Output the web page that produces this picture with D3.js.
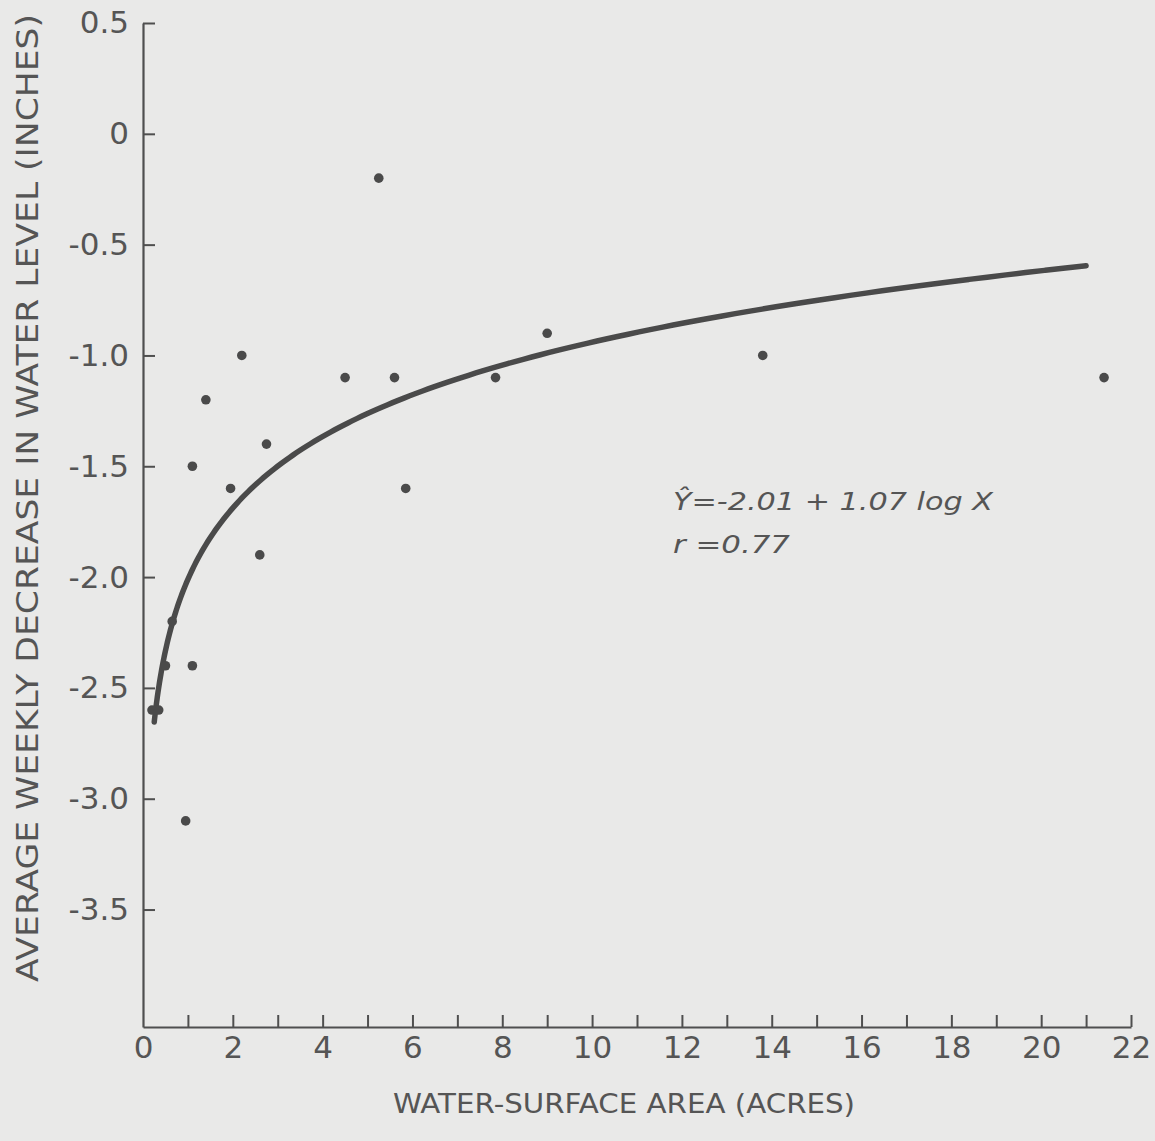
<!DOCTYPE html>
<html>
<head>
<meta charset="utf-8">
<script src="https://cdn.jsdelivr.net/npm/d3@7"></script>
<style>
  html, body { margin: 0; padding: 0; background: #e9e9e8; }
  svg { display: block; }
</style>
</head>
<body>
<svg id="chart" width="1155" height="1141"></svg>
<script>
// ---- data ----
const areaAcres = [0.2, 0.35, 0.65, 0.5, 1.1, 0.95, 1.1, 1.4, 1.95, 2.2, 2.6, 2.75, 4.5, 5.25, 5.6, 5.85, 7.85, 9.0, 13.8, 21.4];
const decreaseInches = [-2.6, -2.6, -2.2, -2.4, -2.4, -3.1, -1.5, -1.2, -1.6, -1.0, -1.9, -1.4, -1.1, -0.2, -1.1, -1.6, -1.1, -0.9, -1.0, -1.1];
const fitIntercept = -2.01;
const fitSlope = 1.07;
const fitRange = [0.25, 21];
const xTickValues = [0,1,2,3,4,5,6,7,8,9,10,11,12,13,14,15,16,17,18,19,20,21,22];
const yTickValues = [0.5, 0, -0.5, -1.0, -1.5, -2.0, -2.5, -3.0, -3.5];
const yTickLabels = ["0.5", "0", "-0.5", "-1.0", "-1.5", "-2.0", "-2.5", "-3.0", "-3.5"];
const xTitle = "WATER-SURFACE AREA (ACRES)";
const yTitle = "AVERAGE WEEKLY DECREASE IN WATER LEVEL (INCHES)";
const equationText = "Ŷ=-2.01 + 1.07 log X";
const rText = "r =0.77";

// ---- drawing ----
const ink = "#4f4f4f";
const font = "'DejaVu Sans', sans-serif";
const svg = d3.select("#chart");

const x = d3.scaleLinear().domain([0, 22]).range([143, 1131]);
const y = d3.scaleLinear().domain([-4.03, 0.5]).range([1027, 23]);

// x axis
const xAxis = d3.axisBottom(x)
  .tickValues(xTickValues)
  .tickSizeInner(-12).tickSizeOuter(0)
  .tickPadding(9)
  .tickFormat(d => d % 2 === 0 ? String(d) : "");
const gx = svg.append("g").attr("transform", `translate(0,${y.range()[0]})`).call(xAxis);
gx.select(".domain").attr("stroke", ink).attr("stroke-width", 2.2);
gx.selectAll(".tick line").attr("stroke", ink).attr("stroke-width", 2);
gx.selectAll(".tick").filter(d => d === 0).select("line").remove();
gx.selectAll(".tick text").attr("fill", "#555").attr("font-family", font).attr("font-size", 31);

// y axis
const yAxis = d3.axisLeft(y)
  .tickValues(yTickValues)
  .tickSizeInner(-12).tickSizeOuter(0)
  .tickPadding(14)
  .tickFormat((d, i) => yTickLabels[i]);
const gy = svg.append("g").attr("transform", `translate(${x.range()[0]},0)`).call(yAxis);
gy.select(".domain").attr("stroke", ink).attr("stroke-width", 2.2);
gy.selectAll(".tick line").attr("stroke", ink).attr("stroke-width", 2);
gy.selectAll(".tick text").attr("fill", "#555").attr("font-family", font).attr("font-size", 31);

// fitted curve
const curvePts = d3.range(0, 201).map(i => {
  const lx = Math.log10(fitRange[0]) + (Math.log10(fitRange[1]) - Math.log10(fitRange[0])) * i / 200;
  const X = Math.pow(10, lx);
  return [X, fitIntercept + fitSlope * Math.log10(X)];
});
svg.append("path")
  .datum(curvePts)
  .attr("fill", "none")
  .attr("stroke", "#4a4a4a")
  .attr("stroke-width", 5.5)
  .attr("stroke-linecap", "round")
  .attr("d", d3.line().x(d => x(d[0])).y(d => y(d[1])).curve(d3.curveMonotoneX));

// points
svg.append("g").selectAll("circle")
  .data(areaAcres.map((a, i) => [a, decreaseInches[i]]))
  .join("circle")
  .attr("cx", d => x(d[0]))
  .attr("cy", d => y(d[1]))
  .attr("r", 4.8)
  .attr("fill", "#4a4a4a");

// equation annotation
svg.append("text")
  .attr("x", 673).attr("y", 510)
  .attr("font-family", font).attr("font-style", "italic").attr("font-size", 25)
  .attr("fill", "#555")
  .attr("textLength", 320).attr("lengthAdjust", "spacingAndGlyphs")
  .text(equationText);
svg.append("text")
  .attr("x", 673).attr("y", 553)
  .attr("font-family", font).attr("font-style", "italic").attr("font-size", 25)
  .attr("fill", "#555")
  .attr("textLength", 117).attr("lengthAdjust", "spacingAndGlyphs")
  .text(rText);

// axis titles
svg.append("text")
  .attr("x", 624).attr("y", 1113)
  .attr("text-anchor", "middle")
  .attr("font-family", font).attr("font-size", 27)
  .attr("fill", "#555")
  .attr("textLength", 462).attr("lengthAdjust", "spacingAndGlyphs")
  .text(xTitle);
svg.append("text")
  .attr("transform", "translate(38,498) rotate(-90)")
  .attr("text-anchor", "middle")
  .attr("font-family", font).attr("font-size", 30)
  .attr("fill", "#555")
  .attr("textLength", 968).attr("lengthAdjust", "spacingAndGlyphs")
  .text(yTitle);
</script>
</body>
</html>
